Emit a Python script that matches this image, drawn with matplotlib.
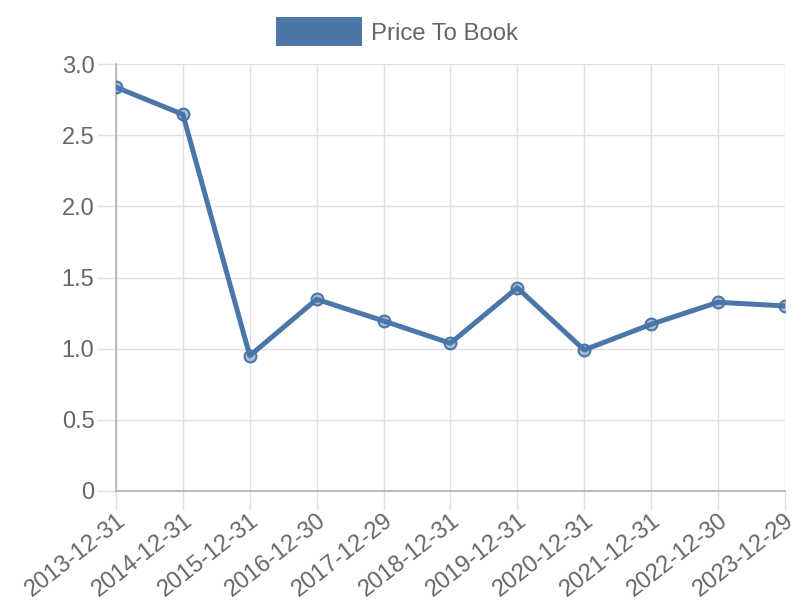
import matplotlib.pyplot as plt
from matplotlib.patches import Rectangle

plt.rcParams['font.family'] = ['Liberation Sans', 'DejaVu Sans']

# Data
dates = ['2013-12-31', '2014-12-31', '2015-12-31', '2016-12-30', '2017-12-29',
         '2018-12-31', '2019-12-31', '2020-12-31', '2021-12-31', '2022-12-30',
         '2023-12-29']
price_to_book = [2.837, 2.646, 0.950, 1.347, 1.195, 1.038, 1.428, 0.991, 1.171, 1.326, 1.300]

blue = '#4a76a8'
grid = '#e0e0e0'
text = '#666666'

fig = plt.figure(figsize=(8, 6), dpi=100)
ax = fig.add_axes([0.145, 0.1817, 0.836, 0.7116])

# Plotting
x = range(len(dates))
ax.plot(x, price_to_book, color=blue, linewidth=3.6, zorder=3)
ax.plot(x, price_to_book, linestyle='none', marker='o', markersize=8.5,
        markerfacecolor=(0.29, 0.46, 0.66, 0.45), markeredgecolor=blue,
        markeredgewidth=1.5, zorder=4)

# Customization
ax.set_xlim(0, len(dates) - 1)
ax.set_ylim(0, 3.0)
ax.set_xticks(list(x))
ax.set_xticklabels(dates, rotation=38, ha='right', va='top', rotation_mode='anchor')
ax.set_yticks([0, 0.5, 1.0, 1.5, 2.0, 2.5, 3.0])
ax.set_yticklabels(['0', '0.5', '1.0', '1.5', '2.0', '2.5', '3.0'])
ax.grid(True, color=grid, linewidth=1)
ax.set_axisbelow(True)
ax.tick_params(colors=grid, labelcolor=text, labelsize=17, length=14, width=1, pad=1.5)
ax.tick_params(axis='x', pad=-1)
for side in ['top', 'right']:
    ax.spines[side].set_visible(False)
for side in ['left', 'bottom']:
    ax.spines[side].set_color('#b0b0b0')
    ax.spines[side].set_linewidth(1.2)

# Legend
fig.patches.append(Rectangle((276 / 800, 1 - 46 / 600), 86 / 800, 29 / 600,
                             transform=fig.transFigure, facecolor=blue, edgecolor='none'))
fig.text(371 / 800, 1 - 33.5 / 600, 'Price To Book', color=text, fontsize=17.2, va='center')

fig.savefig('out.png', dpi=100)
